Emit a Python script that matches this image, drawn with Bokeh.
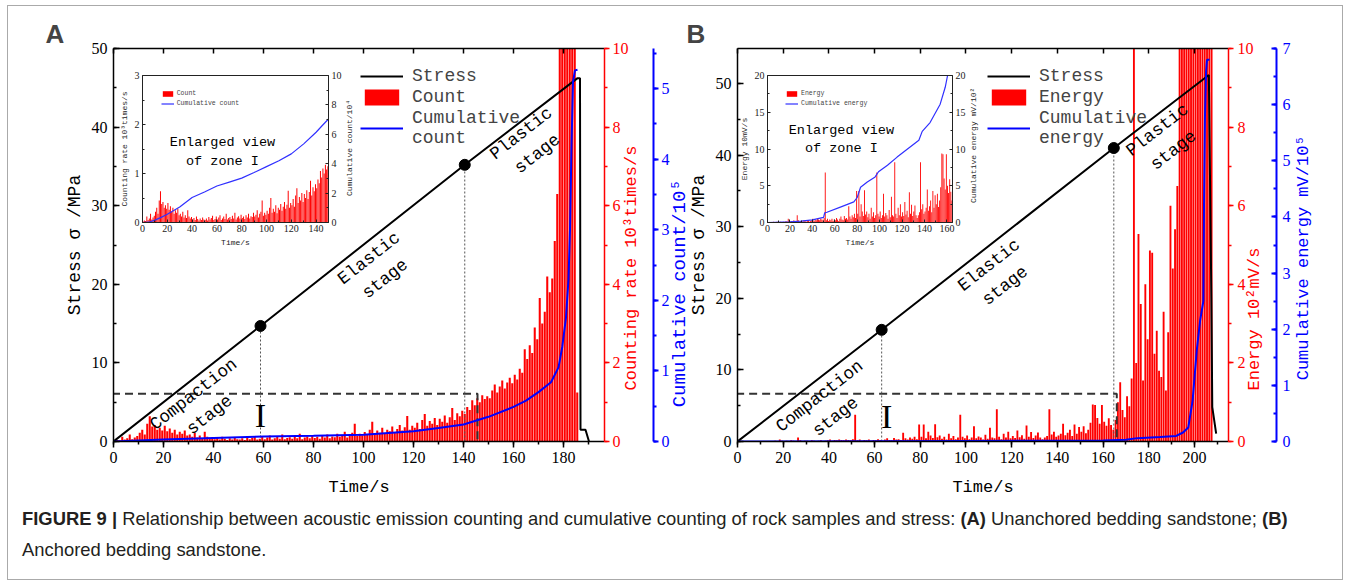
import math
import numpy as np
from bokeh.plotting import figure
from bokeh.models import (Range1d, LinearAxis, SingleIntervalTicker, FixedTicker, Legend,
                          LegendItem, Div, CustomJSTickFormatter)
from bokeh.layouts import row, column
from bokeh.core.properties import value
from bokeh.embed import file_html
from bokeh.resources import INLINE

# ======================= DATA : panel A =======================
# AE counting rate (10^3 times/s), one bar per second from t = 0 s
rate_A = [0.02, 0.04, 0.03, 0.12, 0.05, 0.08, 0.18, 0.06, 0.10, 0.14,
          0.22, 0.30, 0.18, 0.45, 0.64, 0.38, 0.42, 0.30, 0.35, 0.28,
          0.40, 0.26, 0.33, 0.22, 0.30, 0.18, 0.25, 0.20, 0.28, 0.15,
          0.18, 0.12, 0.22, 0.10, 0.15, 0.09, 0.25, 0.12, 0.08, 0.11,
          0.06, 0.09, 0.05, 0.12, 0.07, 0.04, 0.08, 0.05, 0.10, 0.06,
          0.05, 0.08, 0.04, 0.11, 0.06, 0.09, 0.14, 0.05, 0.07, 0.12,
          0.06, 0.10, 0.15, 0.05, 0.08, 0.12, 0.07, 0.18, 0.06, 0.09,
          0.11, 0.07, 0.14, 0.08, 0.20, 0.06, 0.10, 0.13, 0.08, 0.16,
          0.09, 0.12, 0.07, 0.15, 0.10, 0.18, 0.08, 0.13, 0.11, 0.20,
          0.12, 0.16, 0.25, 0.10, 0.18, 0.22, 0.45, 0.14, 0.20, 0.16,
          0.24, 0.18, 0.30, 0.50, 0.20, 0.28, 0.22, 0.35, 0.19, 0.30,
          0.26, 0.38, 0.24, 0.32, 0.42, 0.28, 0.36, 0.65, 0.30, 0.40,
          0.35, 0.48, 0.32, 0.55, 0.70, 0.40, 0.52, 0.45, 0.60, 0.42,
          0.58, 0.50, 0.66, 0.48, 0.62, 0.85, 0.55, 0.72, 0.64, 0.78,
          0.70, 0.88, 0.80, 1.05, 0.92, 1.10, 1.00, 1.18, 1.08, 1.15,
          1.10, 1.30, 1.45, 1.25, 1.40, 1.55, 1.35, 1.50, 1.62, 1.48,
          1.70, 1.58, 1.85, 1.75, 2.35, 2.10, 2.45, 2.25, 2.90, 2.60,
          3.65, 3.00, 3.30, 4.20, 3.80, 4.15, 5.10, 6.30, 12.0, 12.0,
          12.0, 12.0, 12.0, 12.0, 12.0, 1.25]
# cumulative count (10^5)
cum_A_t = [0, 20, 40, 60, 80, 100, 120, 130, 140, 150, 160, 165, 170, 175, 178,
           179.5, 181, 182, 182.6, 183.2, 183.8, 184.6, 185.6]
cum_A_v = [0, 0.03, 0.05, 0.07, 0.08, 0.095, 0.146, 0.19, 0.24, 0.35, 0.49, 0.58, 0.70,
           0.84, 1.05, 1.34, 1.76, 2.3, 3.0, 4.2, 5.1, 5.26, 5.27]
# inset cumulative count (10^4)
icum_A_t = [0, 5, 10, 15, 20, 30, 40, 50, 60, 70, 80, 90, 100, 110, 120, 130, 140, 145, 150]
icum_A_v = [0, 0.02, 0.16, 0.35, 0.56, 1.06, 1.7, 2.08, 2.48, 2.75, 3.02, 3.4, 3.8, 4.2,
            4.67, 5.35, 6.14, 6.6, 7.04]
# stress (MPa)
stress_A_t = [0, 58.8, 140.5, 185.5, 186.6, 186.8, 188.8, 190.2]
stress_A_v = [0, 14.7, 35.2, 46.2, 46.2, 1.5, 1.5, 0]
dots_A_t = [58.8, 140.5]
dots_A_v = [14.7, 35.2]
zone_A_t = [-0.6, 145.6]
zone_A_v = [-0.15, 6.07]
stage_labels = ["Compaction\nstage", "Elastic\nstage", "Plastic\nstage"]
stage_A_t = [35.2, 105.4, 166.3]
stage_A_v = [4.7, 22.0, 37.9]
mark_A = [58.8, 3.3]

# ======================= DATA : panel B =======================
# AE energy (10 mV/s), one bar per second from t = 0 s
energy_B = [0, 0, 0, 0, 0, 0.1, 0, 0, 0.1, 0,
            0, 0.1, 0, 0, 0.1, 0, 0.2, 0.1, 0.5, 0.2,
            0.1, 0.2, 0.1, 0.3, 0.2, 0.1, 1.0, 0.3, 0.1, 0.2,
            0.2, 0.1, 0.3, 0.2, 0.1, 0.2, 0.3, 0.1, 0.2, 0.3,
            0.5, 0.2, 0.4, 0.3, 0.5, 0.4, 0.3, 0.5, 0.4, 0.3,
            0.6, 6.8, 0.3, 0.5, 0.2, 0.4, 0.3, 0.5, 0.2, 0.4,
            0.3, 0.6, 0.4, 0.2, 0.5, 0.8, 0.4, 0.3, 0.9, 0.5,
            0.6, 0.4, 2.2, 0.8, 0.5, 1.0, 0.7, 1.2, 0.6, 4.3,
            1.2, 4.3, 0.8, 2.5, 1.5, 0.9, 4.4, 1.1, 1.5, 0.7,
            1.2, 0.5, 2.0, 0.8, 1.4, 0.6, 1.0, 6.8, 1.2, 0.8,
            1.5, 0.6, 1.0, 3.9, 0.8, 1.3, 1.0, 0.5, 1.7, 0.7,
            3.5, 1.0, 0.8, 8.2, 1.2, 0.6, 2.0, 1.0, 2.5, 0.8,
            1.4, 0.9, 2.8, 1.1, 1.6, 0.7, 4.1, 1.2, 2.4, 0.9,
            1.5, 2.3, 1.0, 0.6, 1.0, 1.4, 8.2, 1.8, 2.5, 1.2,
            1.5, 2.0, 4.5, 1.6, 2.2, 3.0, 1.4, 4.3, 2.0, 3.7,
            2.5, 3.9, 2.1, 3.0, 4.8, 9.4, 9.3, 6.0, 4.5, 9.3,
            5.0, 4.0, 5.9, 4.2, 3.0, 5.5, 10.0, 15.1, 8.0, 6.2,
            11.5, 9.0, 16.0, 120, 20.0, 52.8, 35.0, 15.5, 40.0, 26.0,
            48.6, 48.0, 22.3, 28.2, 18.0, 16.4, 33.0, 13.0, 27.8, 60.0,
            44.0, 54.0, 65.0, 120, 120, 120, 120, 120, 120, 120,
            120, 120, 120, 120, 120, 120, 120, 120]
# cumulative energy (10^5 mV)
cum_B_t = [0, 100, 160, 170, 175, 185, 192, 195, 197.3, 199.2, 201, 202.5, 203.9,
           204.2, 204.6, 205.1, 205.5, 206.6]
cum_B_v = [0, 0.01, 0.02, 0.03, 0.06, 0.08, 0.1, 0.16, 0.25, 0.73, 1.62, 2.16, 2.5,
           4.3, 5.8, 6.6, 6.8, 6.8]
# inset cumulative energy (mV/10^2)
icum_B_t = [0, 20, 30, 40, 50, 51, 53, 65, 77, 80, 83, 89, 96, 99, 107, 115.6, 124,
            135, 138, 145, 154, 158.5, 160.6]
icum_B_v = [0, 0.1, 0.2, 0.35, 0.7, 1.3, 1.4, 2.1, 2.8, 3.4, 4.8, 5.5, 6.2, 6.9, 7.8,
            8.9, 9.9, 11.2, 12.4, 13.6, 16.1, 18.4, 20.0]
stress_B_t = [0, 63.1, 164.7, 206.3, 207.4, 207.8, 209.5]
stress_B_v = [0, 15.6, 41.0, 51.2, 20.0, 4.8, 1.1]
dots_B_t = [63.1, 164.7]
dots_B_v = [15.6, 41.0]
zone_B_t = [-0.6, 166.0]
zone_B_v = [-0.15, 6.66]
stage_B_t = [39.4, 113.6, 187.3]
stage_B_v = [4.9, 23.2, 42.1]
mark_B = [65.3, 3.45]

CAPTION = ("<b>FIGURE 9 |</b> Relationship between acoustic emission counting and cumulative "
           "counting of rock samples and stress: <b>(A)</b> Unanchored bedding sandstone; "
           "<b>(B)</b><br>Anchored bedding sandstone.")

# ======================= STYLE / LAYOUT =======================
SERIF = "Liberation Serif"
MONO = "Liberation Mono"
RED = "#ff0000"
BLUE = "#0000ff"
FW, FH = 491, 393
NB = "\u00a0"
HAS_ALIGN = "axis_label_align" in LinearAxis.properties()


def inset_range(frame_len, off0, off1, v0, v1):
    k = (v1 - v0) / (off1 - off0)
    return Range1d(start=v0 - off0 * k, end=v1 + (frame_len - off1) * k)


def axis_common(ax, color, tick_size, label_size, lw=1.5):
    ax.axis_line_color = color
    ax.axis_line_width = lw
    ax.major_tick_line_color = color
    ax.minor_tick_line_color = color
    ax.major_tick_line_width = lw
    ax.minor_tick_line_width = lw
    ax.major_label_text_color = color
    ax.major_label_text_font = SERIF
    ax.major_label_text_font_size = tick_size
    ax.axis_label_text_color = color
    ax.axis_label_text_font = MONO
    ax.axis_label_text_font_size = label_size
    ax.axis_label_text_font_style = "normal"


def ticks(ax, tin, tout, mtin, mtout):
    ax.major_tick_in = tin
    ax.major_tick_out = tout
    ax.minor_tick_in = mtin
    ax.minor_tick_out = mtout


def right_label(ax, text, pad):
    # label reads bottom-to-top; start it `pad` characters above the frame bottom
    ax.axis_label_orientation = math.pi / 2
    if HAS_ALIGN:
        ax.axis_label_align = "start"
        ax.axis_label = NB * pad + text
    else:
        ax.axis_label = text


def build_panel(P):
    p = figure(frame_width=FW, frame_height=FH,
               x_range=Range1d(0, P["xmax"]), y_range=Range1d(0, P["ymax"]),
               x_axis_type=None, y_axis_type=None, output_backend="svg",
               toolbar_location=None, min_border_left=P["mbl"], min_border_right=P["mbr"],
               min_border_top=42, min_border_bottom=62)
    p.outline_line_color = None
    p.title.text = P["letter"]
    p.title.align = "left"
    p.title.offset = P["letter_off"]
    p.title.standoff = 0
    p.title.text_font = "Liberation Sans"
    p.title.text_font_style = "bold"
    p.title.text_font_size = "26px"
    ox0, ox1, oy0, oy1 = P["inset_off"]
    p.extra_x_ranges = {"ix": inset_range(FW, ox0, ox1, 0, P["ixmax"])}
    p.extra_y_ranges = {
        "red": Range1d(0, 10),
        "bar": Range1d(0, P["barmax"]),
        "blue": Range1d(0, P["bluemax"]),
        "iy": inset_range(FH, oy0, oy1, 0, P["iymax"]),
        "iy2": inset_range(FH, oy0, oy1, 0, P["iy2max"]),
    }

    # ---- main axes ----
    left = LinearAxis(axis_label="Stress σ /MPa",
                      ticker=SingleIntervalTicker(interval=10, num_minor_ticks=2))
    axis_common(left, "black", "16px", "18px")
    ticks(left, 6, 0, 3, 0)
    left.major_label_standoff = 6
    left.axis_label_standoff = 4
    p.add_layout(left, "left")

    below = LinearAxis(axis_label="Time/s",
                       ticker=SingleIntervalTicker(interval=20, num_minor_ticks=2))
    axis_common(below, "black", "16px", "17px")
    ticks(below, 0, 6, 0, 3)
    below.major_label_standoff = 4
    below.axis_label_standoff = 12
    p.add_layout(below, "below")

    above = LinearAxis(ticker=SingleIntervalTicker(interval=20, num_minor_ticks=0),
                       formatter=CustomJSTickFormatter(code="return ''"))
    axis_common(above, "black", "10px", "10px")
    ticks(above, 5, 0, 0, 0)
    above.minor_tick_line_color = None
    p.add_layout(above, "above")

    red = LinearAxis(y_range_name="red",
                     ticker=SingleIntervalTicker(interval=2, num_minor_ticks=2))
    axis_common(red, RED, "16px", "17px")
    ticks(red, 0, 5, 0, 3)
    red.major_label_standoff = P["red_so"]
    red.axis_label_standoff = P["red_lab_so"]
    right_label(red, P["red_label"], P["red_pad"])
    p.add_layout(red, "right")

    blue = LinearAxis(y_range_name="blue",
                      ticker=SingleIntervalTicker(interval=1, num_minor_ticks=2))
    axis_common(blue, BLUE, "16px", P["blue_lab_size"], lw=2)
    ticks(blue, *P["blue_ticks"])
    blue.major_label_standoff = P["blue_so"]
    blue.axis_label_standoff = P["blue_lab_so"]
    right_label(blue, P["blue_label"], P["blue_pad"])
    p.add_layout(blue, "right")

    # ---- main glyphs ----
    bars = P["bars"]
    bx = np.arange(len(bars)) + 0.5
    vb = p.vbar(x=bx, top=bars, width=0.82, y_range_name="bar",
                fill_color=RED, line_color=None)
    p.quad(left=[P["zone_t"][0]], right=[P["zone_t"][1]], bottom=[P["zone_v"][0]],
           top=[P["zone_v"][1]], fill_color=None, line_color="#333333", line_width=2,
           line_dash="8 5")
    p.segment(x0=P["dots_t"], y0=[0] * len(P["dots_t"]), x1=P["dots_t"], y1=P["dots_v"],
              line_color="#555555", line_width=1, line_dash="2 2")
    st = p.line(P["stress_t"], P["stress_v"], line_color="black", line_width=2)
    p.scatter(P["dots_t"], P["dots_v"], size=11, color="black")
    cl = p.line(P["cum_t"], P["cum_v"], y_range_name="blue", line_color=BLUE, line_width=2)
    p.text(x=P["stage_t"], y=P["stage_v"], text=stage_labels, angle=math.radians(38),
           text_font=value(MONO), text_font_size="17.5px", text_align="center",
           text_baseline="middle", text_line_height=1.3, text_color="black")
    p.text(x=[P["mark"][0]], y=[P["mark"][1]], text=["I"], text_font=value(SERIF),
           text_font_size="34px", text_align="center", text_baseline="middle",
           text_color="black")

    leg = Legend(items=[LegendItem(label="Stress", renderers=[st]),
                        LegendItem(label=P["leg_bar"], renderers=[vb]),
                        LegendItem(label=P["leg_cum"], renderers=[cl])],
                 location=P["leg_loc"], label_text_font=MONO, label_text_font_size="18px",
                 glyph_width=43, glyph_height=20, label_height=20, spacing=1,
                 label_standoff=9, padding=0, margin=0, border_line_color=None,
                 background_fill_alpha=0)
    p.add_layout(leg, "center")

    # ---- inset (zone I) ----
    n = P["inset_n"]
    ivb = p.vbar(x=bx[:n], top=bars[:n], width=0.8, x_range_name="ix", y_range_name="iy",
                 fill_color=RED, line_color=None)
    icl = p.line(P["icum_t"], P["icum_v"], x_range_name="ix", y_range_name="iy2",
                 line_color="#3030ff", line_width=1.2)

    ib = LinearAxis(x_range_name="ix", y_range_name="iy", fixed_location=0,
                    bounds=(0, P["ixmax"]), axis_label="Time/s",
                    ticker=SingleIntervalTicker(interval=20, num_minor_ticks=2))
    axis_common(ib, "#222222", "10px", "8px", lw=1)
    ticks(ib, 3, 0, 2, 0)
    ib.major_label_standoff = 2
    ib.axis_label_standoff = 3
    p.add_layout(ib, "below")

    il = LinearAxis(x_range_name="ix", y_range_name="iy", fixed_location=0,
                    bounds=(0, P["iymax"]), axis_label=P["ileft_label"],
                    ticker=SingleIntervalTicker(interval=P["iy_int"], num_minor_ticks=2))
    axis_common(il, "#222222", "10px", "8px", lw=1)
    ticks(il, 3, 0, 2, 0)
    il.major_label_standoff = 3
    il.axis_label_standoff = 3
    p.add_layout(il, "left")

    ir = LinearAxis(x_range_name="ix", y_range_name="iy2", fixed_location=P["ixmax"],
                    bounds=(0, P["iy2max"]),
                    ticker=SingleIntervalTicker(interval=P["iy2_int"], num_minor_ticks=2))
    axis_common(ir, "#222222", "10px", "8px", lw=1)
    ticks(ir, 3, 0, 2, 0)
    ir.major_label_standoff = 3
    p.add_layout(ir, "right")

    it = LinearAxis(x_range_name="ix", y_range_name="iy", fixed_location=P["iymax"],
                    bounds=(0, P["ixmax"]), ticker=FixedTicker(ticks=[]))
    axis_common(it, "#222222", "10px", "8px", lw=1)
    p.add_layout(it, "above")

    # inset right-axis title (inside the main frame)
    p.text(x=[P["iright_xy"][0]], y=[P["iright_xy"][1]], text=[P["iright_label"]],
           x_range_name="ix", y_range_name="iy", angle=math.pi / 2,
           text_font=value(MONO), text_font_size="8px", text_align="center",
           text_baseline="middle", text_color="#222222")

    p.text(x=[P["enl"][0]], y=[P["enl"][1]], text=["Enlarged view\nof zone I"],
           x_range_name="ix", y_range_name="iy", text_font=value(MONO),
           text_font_size="13.5px", text_align="center", text_baseline="middle",
           text_line_height=1.25, text_color="black")

    ileg = Legend(items=[LegendItem(label=P["leg_bar"], renderers=[ivb]),
                         LegendItem(label=P["ileg_cum"], renderers=[icl])],
                  location=P["ileg_loc"], label_text_font=MONO, label_text_font_size="6.5px",
                  glyph_width=13, glyph_height=7, label_height=7, spacing=3,
                  label_standoff=3, padding=0, margin=0, border_line_color=None,
                  background_fill_alpha=0)
    p.add_layout(ileg, "center")
    return p


pA = build_panel(dict(
    xmax=196.4, ymax=50, bluemax=5.57, barmax=10, mbl=105, mbr=104,
    inset_off=(29, 215, 219, 366), ixmax=150, iymax=3, iy2max=10, iy_int=1, iy2_int=2,
    red_label="Counting rate 10³times/s", blue_label="Cumulative count/10⁵",
    red_so=3, red_lab_so=0, red_pad=5,
    blue_ticks=(0, 5, 0, 3), blue_so=3, blue_lab_so=7, blue_pad=3, blue_lab_size="19px",
    bars=rate_A, zone_t=zone_A_t, zone_v=zone_A_v, dots_t=dots_A_t, dots_v=dots_A_v,
    stress_t=stress_A_t, stress_v=stress_A_v, cum_t=cum_A_t, cum_v=cum_A_v,
    stage_t=stage_A_t, stage_v=stage_A_v, mark=mark_A,
    leg_bar="Count", leg_cum="Cumulative\ncount", leg_loc=(247, 293),
    inset_n=150, icum_t=icum_A_t, icum_v=icum_A_v,
    ileft_label="Counting rate 10³times/s", iright_label="Cumulative count/10⁴",
    iright_xy=(166.9, 1.52),
    enl=(64.5, 1.44), ileg_cum="Cumulative count", ileg_loc=(47.7, 334),
    letter="A", letter_off=-68))

pB = build_panel(dict(
    xmax=214.9, ymax=54.9, bluemax=7, barmax=100, mbl=60, mbr=114,
    inset_off=(30, 215, 219, 366), ixmax=165, iymax=20, iy2max=20, iy_int=5, iy2_int=5,
    red_label="Energy 10²mV/s", blue_label="Cumulative energy mV/10⁵",
    red_so=4, red_lab_so=-2, red_pad=5,
    blue_ticks=(5, 0, 3, 0), blue_so=6, blue_lab_so=10, blue_pad=6, blue_lab_size="17px",
    bars=energy_B, zone_t=zone_B_t, zone_v=zone_B_v, dots_t=dots_B_t, dots_v=dots_B_v,
    stress_t=stress_B_t, stress_v=stress_B_v, cum_t=cum_B_t, cum_v=cum_B_v,
    stage_t=stage_B_t, stage_v=stage_B_v, mark=mark_B,
    leg_bar="Energy", leg_cum="Cumulative\nenergy", leg_loc=(250, 293),
    inset_n=165, icum_t=icum_B_t, icum_v=icum_B_v,
    ileft_label="Energy 10mV/s", iright_label="Cumulative energy mV/10²",
    iright_xy=(183.4, 10.5),
    enl=(65.9, 11.3), ileg_cum="Cumulative energy", ileg_loc=(48, 334),
    letter="B", letter_off=-51))

# panel B's left border overlaps panel A's right border (as in the reference figure)
pB.border_fill_alpha = 0
pB.styles = {"margin-left": "-31px"}

cap = Div(text=CAPTION, width=1334, height=76, margin=0,
          styles={"font-family": "Liberation Sans", "font-size": "18.4px",
                  "line-height": "31px", "padding-left": "14px",
                  "color": "#231f20"})

layout = column(row(pA, pB), cap,
                styles={"margin-left": "7px", "margin-top": "5px",
                        "border": "1px solid #aaaaaa"})

open("out.html", "w").write(file_html(layout, INLINE))
